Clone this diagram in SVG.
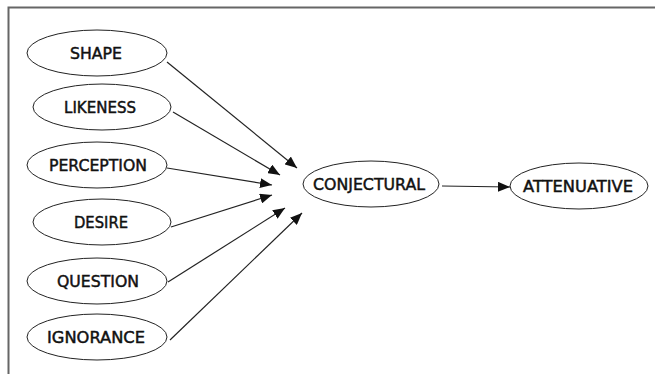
<svg xmlns="http://www.w3.org/2000/svg" width="655" height="374" viewBox="0 0 655 374">
<style>
.n ellipse{fill:#fff;stroke:#222;stroke-width:1}
.n text{font-family:"DejaVu Sans","Liberation Sans",sans-serif;font-size:15px;fill:#111;stroke:#111;stroke-width:0.45;text-anchor:middle}
.c line{stroke:#222;stroke-width:1.2;marker-end:url(#ah)}
</style>
<defs>
<marker id="ah" viewBox="0 0 12 10" refX="12" refY="5" markerWidth="12" markerHeight="10" markerUnits="userSpaceOnUse" orient="auto">
<path d="M0,0 L12,5 L0,10 z" fill="#111"/>
</marker>
</defs>
<rect x="0" y="0" width="655" height="374" fill="#fff"/>
<path d="M8.5,374 V7.5 H655" fill="none" stroke="#666" stroke-width="2"/>
<g class="c">
<line x1="167" y1="62" x2="297" y2="168"/>
<line x1="173" y1="112" x2="280" y2="175"/>
<line x1="167" y1="168" x2="272" y2="185"/>
<line x1="171" y1="227" x2="272" y2="195"/>
<line x1="168" y1="282" x2="285" y2="208"/>
<line x1="170" y1="340" x2="302" y2="213"/>
<line x1="442" y1="186" x2="510" y2="187"/>
</g>
<g id="shape" class="n"><ellipse cx="97" cy="53" rx="70" ry="23"/><text x="96" y="59" textLength="52" lengthAdjust="spacingAndGlyphs">SHAPE</text></g>
<g id="likeness" class="n"><ellipse cx="102" cy="107" rx="69" ry="23"/><text x="100" y="113" textLength="72" lengthAdjust="spacingAndGlyphs">LIKENESS</text></g>
<g id="perception" class="n"><ellipse cx="97" cy="165" rx="70" ry="23"/><text x="98" y="171" textLength="98" lengthAdjust="spacingAndGlyphs">PERCEPTION</text></g>
<g id="desire" class="n"><ellipse cx="102" cy="222" rx="69" ry="23"/><text x="101" y="228" textLength="54" lengthAdjust="spacingAndGlyphs">DESIRE</text></g>
<g id="question" class="n"><ellipse cx="97" cy="281" rx="70" ry="23"/><text x="98" y="287" textLength="82" lengthAdjust="spacingAndGlyphs">QUESTION</text></g>
<g id="ignorance" class="n"><ellipse cx="97" cy="337" rx="70" ry="23"/><text x="96" y="343" textLength="98" lengthAdjust="spacingAndGlyphs">IGNORANCE</text></g>
<g id="conjectural" class="n"><ellipse cx="371" cy="184" rx="68" ry="23"/><text x="369" y="190" textLength="112" lengthAdjust="spacingAndGlyphs">CONJECTURAL</text></g>
<g id="attenuative" class="n"><ellipse cx="579" cy="186" rx="69" ry="23"/><text x="578" y="192" textLength="110" lengthAdjust="spacingAndGlyphs">ATTENUATIVE</text></g>
</svg>
